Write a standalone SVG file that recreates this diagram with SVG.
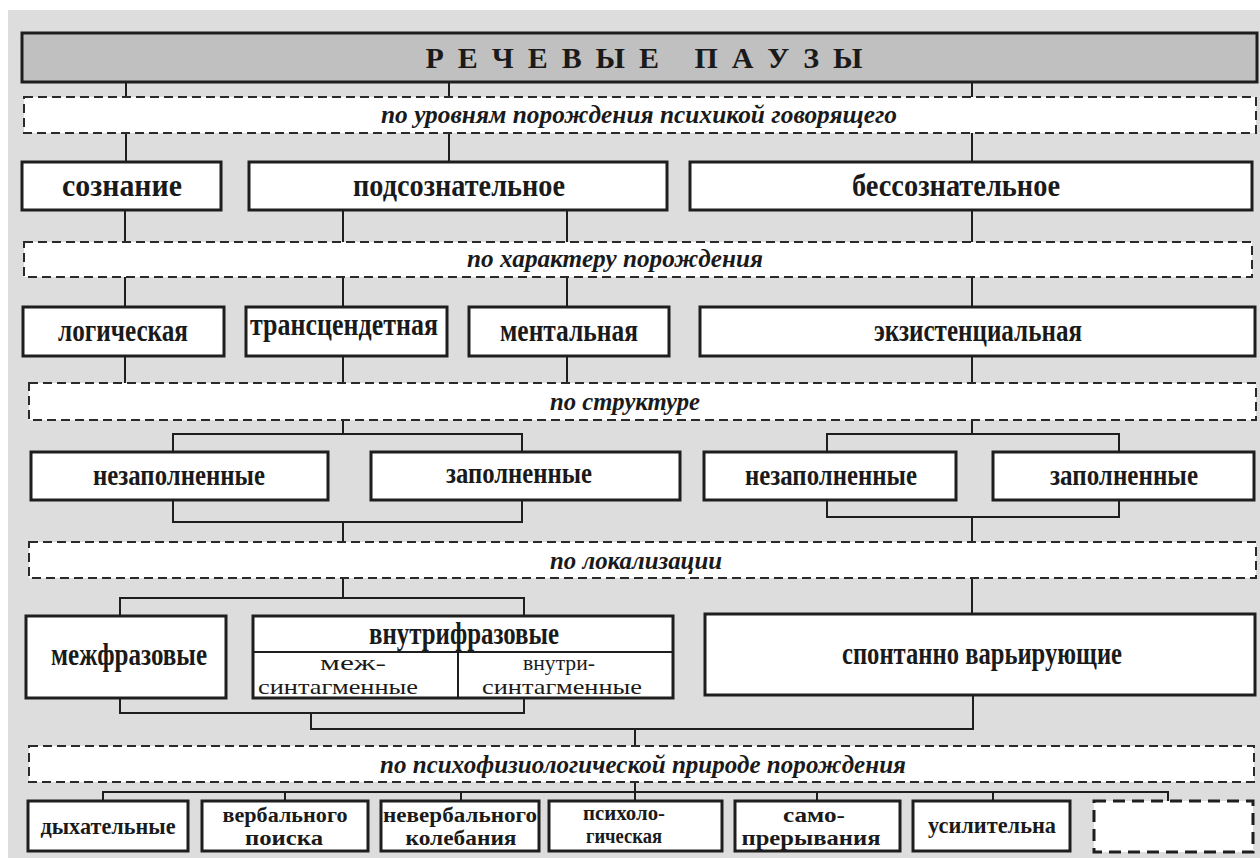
<svg xmlns="http://www.w3.org/2000/svg" width="1260" height="858" viewBox="0 0 1260 858">
<style>
.bg{fill:#dddddd}
.title{fill:#c0c0c0;stroke:#1e1e1e;stroke-width:3}
.box{fill:#ffffff;stroke:#1e1e1e;stroke-width:3}
.dash{fill:#ffffff;stroke:#2a2a2a;stroke-width:2;stroke-dasharray:9,5}
.dashb{fill:#ffffff;stroke:#1e1e1e;stroke-width:3;stroke-dasharray:12,7}
.cell{fill:none;stroke:#1e1e1e;stroke-width:2}
.conn path{fill:none;stroke:#1e1e1e;stroke-width:2}
text{fill:#1a1a1a;text-anchor:middle}
.tt{font-size:30px;font-weight:bold}
.lb{font-size:31px;font-weight:bold}
.lm{font-size:29px;font-weight:bold}
.sm{font-size:24px;font-weight:bold}
.s2{font-size:20px;font-weight:bold}
.rg{font-size:21px;font-weight:normal}
.it{font-size:26px;font-weight:bold;font-style:italic}
</style>
<rect class="bg" x="8" y="10" width="1252" height="848"/>

<g id="connectors" class="conn">
<path d="M126 82V97M449 82V97M972 82V97"/>
<path d="M126 133V162M449 133V162M972 133V162"/>
<path d="M125 210V242M343 210V242M567 210V242M972 210V242"/>
<path d="M125 277V307M343 277V307M567 277V307M972 277V307"/>
<path d="M125 356V383M343 356V383M567 356V383M972 356V383"/>
<path d="M343 420V434M173 452V434H522V452"/>
<path d="M972 420V434M827 452V434H1119V452"/>
<path d="M173 500V522H522V500M343 522V542"/>
<path d="M827 500V517H1119V500M972 517V542"/>
<path d="M343 578V598M120 616V598H524V616"/>
<path d="M972 578V614"/>
<path d="M120 698V713H524V698M311 713V729H973V695M635 729V746"/>
<path d="M635 782V801M103 801V792H1168V801M285 792V801M461 792V801M817 792V801M993 792V801"/>
</g>

<g font-family="Liberation Serif, Times New Roman, serif">
<g id="title">
<rect class="title" x="22" y="33" width="1235" height="49"/>
<text class="tt" x="644" y="68" xml:space="preserve" textLength="437" lengthAdjust="spacing">Р Е Ч Е В Ы Е   П А У З Ы</text>
</g>

<g id="crit1">
<rect class="dash" x="24" y="97" width="1232" height="36"/>
<text class="it" x="639" y="123" textLength="516" lengthAdjust="spacingAndGlyphs">по уровням порождения психикой говорящего</text>
</g>

<g id="soznanie"><rect class="box" x="22" y="162" width="199" height="48"/><text class="lb" x="122" y="196" textLength="120" lengthAdjust="spacingAndGlyphs">сознание</text></g>
<g id="podsoznatelnoe"><rect class="box" x="249" y="162" width="418" height="48"/><text class="lb" x="459" y="196" textLength="212" lengthAdjust="spacingAndGlyphs">подсознательное</text></g>
<g id="bessoznatelnoe"><rect class="box" x="690" y="162" width="562" height="48"/><text class="lb" x="956" y="196" textLength="208" lengthAdjust="spacingAndGlyphs">бессознательное</text></g>

<g id="crit2">
<rect class="dash" x="24" y="242" width="1228" height="35"/>
<text class="it" x="615" y="267" textLength="296" lengthAdjust="spacingAndGlyphs">по характеру порождения</text>
</g>

<g id="logicheskaya"><rect class="box" x="23" y="307" width="201" height="49"/><text class="lb" x="123" y="341" textLength="130" lengthAdjust="spacingAndGlyphs">логическая</text></g>
<g id="transcendetnaya"><rect class="box" x="246" y="307" width="201" height="49"/><text class="lb" x="344" y="335" textLength="188" lengthAdjust="spacingAndGlyphs">трансцендетная</text></g>
<g id="mentalnaya"><rect class="box" x="469" y="307" width="200" height="49"/><text class="lb" x="569" y="341" textLength="138" lengthAdjust="spacingAndGlyphs">ментальная</text></g>
<g id="ekzistencialnaya"><rect class="box" x="700" y="307" width="555" height="49"/><text class="lb" x="978" y="341" textLength="208" lengthAdjust="spacingAndGlyphs">экзистенциальная</text></g>

<g id="crit3">
<rect class="dash" x="29" y="383" width="1227" height="37"/>
<text class="it" x="625" y="410" textLength="150" lengthAdjust="spacingAndGlyphs">по структуре</text>
</g>

<g id="nezapL"><rect class="box" x="31" y="452" width="297" height="48"/><text class="lm" x="179" y="485" textLength="172" lengthAdjust="spacingAndGlyphs">незаполненные</text></g>
<g id="zapL"><rect class="box" x="371" y="452" width="309" height="48"/><text class="lm" x="519" y="483" textLength="146" lengthAdjust="spacingAndGlyphs">заполненные</text></g>
<g id="nezapR"><rect class="box" x="704" y="452" width="252" height="48"/><text class="lm" x="831" y="485" textLength="172" lengthAdjust="spacingAndGlyphs">незаполненные</text></g>
<g id="zapR"><rect class="box" x="993" y="452" width="261" height="48"/><text class="lm" x="1124" y="485" textLength="148" lengthAdjust="spacingAndGlyphs">заполненные</text></g>

<g id="crit4">
<rect class="dash" x="29" y="542" width="1227" height="36"/>
<text class="it" x="636" y="569" textLength="172" lengthAdjust="spacingAndGlyphs">по локализации</text>
</g>

<g id="mezhfrazovye"><rect class="box" x="26" y="616" width="200" height="82"/><text class="lb" x="129" y="665" textLength="156" lengthAdjust="spacingAndGlyphs">межфразовые</text></g>
<g id="vnutrifrazovye">
<rect class="box" x="253" y="616" width="420" height="82"/>
<path class="cell" d="M253 652H673M458 652V698"/>
<text class="lb" x="464" y="644" textLength="190" lengthAdjust="spacingAndGlyphs">внутрифразовые</text>
<text class="rg" x="353" y="670" textLength="66" lengthAdjust="spacingAndGlyphs">меж-</text>
<text class="rg" x="338" y="694" textLength="160" lengthAdjust="spacingAndGlyphs">синтагменные</text>
<text class="rg" x="559" y="670" textLength="72" lengthAdjust="spacingAndGlyphs">внутри-</text>
<text class="rg" x="562" y="694" textLength="160" lengthAdjust="spacingAndGlyphs">синтагменные</text>
</g>
<g id="spontanno"><rect class="box" x="705" y="614" width="550" height="81"/><text class="lb" x="982" y="664" textLength="280" lengthAdjust="spacingAndGlyphs">спонтанно варьирующие</text></g>

<g id="crit5">
<rect class="dash" x="29" y="746" width="1225" height="36"/>
<text class="it" x="643" y="773" textLength="526" lengthAdjust="spacingAndGlyphs">по психофизиологической природе порождения</text>
</g>

<g id="dyhatelnye"><rect class="box" x="28" y="801" width="160" height="50"/><text class="sm" x="108" y="834" textLength="135" lengthAdjust="spacingAndGlyphs">дыхательные</text></g>
<g id="verbalnogo"><rect class="box" x="202" y="801" width="166" height="50"/><text class="s2" x="285" y="822" textLength="125" lengthAdjust="spacingAndGlyphs">вербального</text><text class="s2" x="284" y="845" textLength="78" lengthAdjust="spacingAndGlyphs">поиска</text></g>
<g id="neverbalnogo"><rect class="box" x="381" y="801" width="158" height="50"/><text class="s2" x="460" y="822" textLength="154" lengthAdjust="spacingAndGlyphs">невербального</text><text class="s2" x="461" y="845" textLength="111" lengthAdjust="spacingAndGlyphs">колебания</text></g>
<g id="psihologicheskaya"><rect class="box" x="549" y="801" width="173" height="50"/><text class="s2" x="624" y="820" textLength="82" lengthAdjust="spacingAndGlyphs">психоло-</text><text class="s2" x="624" y="843" textLength="76" lengthAdjust="spacingAndGlyphs">гическая</text></g>
<g id="samopreryvaniya"><rect class="box" x="735" y="801" width="165" height="50"/><text class="s2" x="814" y="822" textLength="62" lengthAdjust="spacingAndGlyphs">само-</text><text class="s2" x="811" y="845" textLength="139" lengthAdjust="spacingAndGlyphs">прерывания</text></g>
<g id="usilitelna"><rect class="box" x="913" y="801" width="157" height="50"/><text class="sm" x="992" y="833" textLength="128" lengthAdjust="spacingAndGlyphs">усилительна</text></g>
<g id="empty"><rect class="dashb" x="1094" y="801" width="159" height="51"/></g>
</g>
</svg>
